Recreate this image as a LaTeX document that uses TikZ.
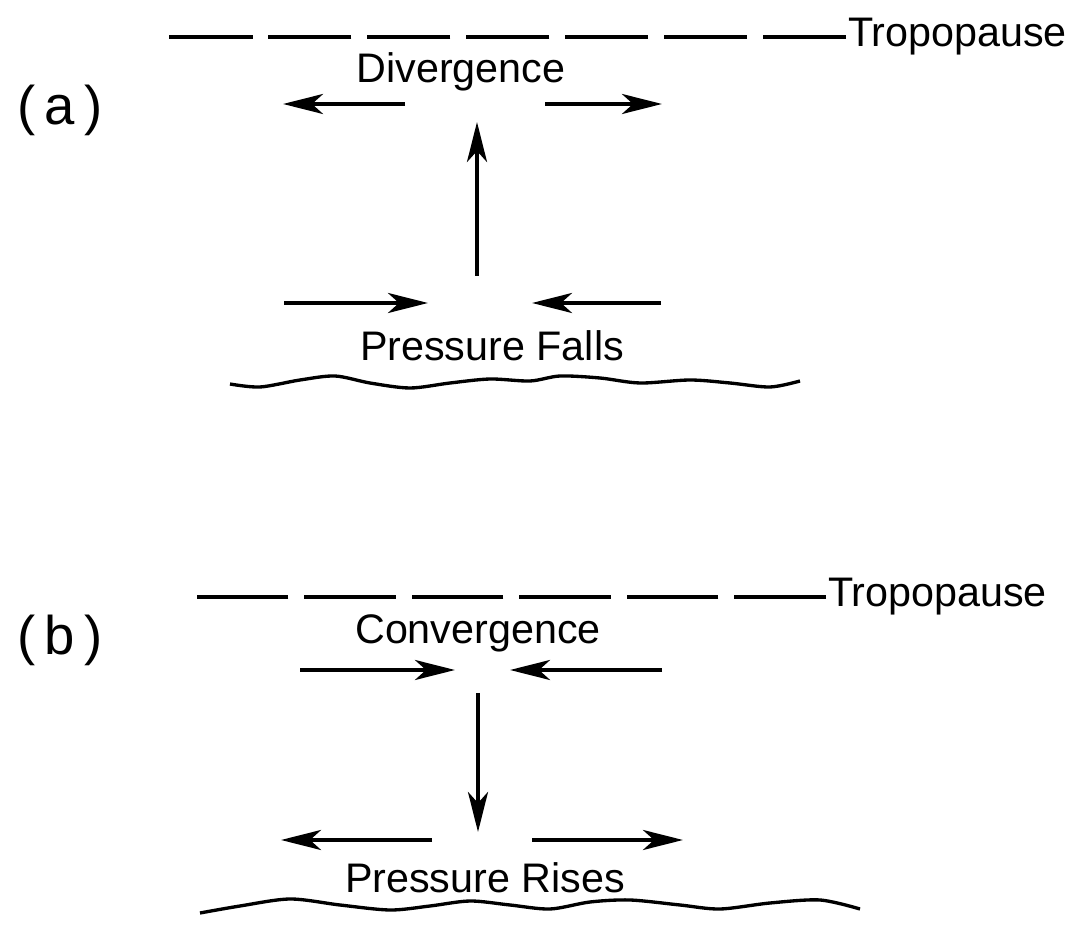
\documentclass[tikz,border=0pt]{standalone}
\usepackage{fontspec}
\setmainfont{Liberation Sans}
\usetikzlibrary{arrows.meta}
\tikzset{
  lbl/.style={font=\fontsize{23.5}{27}\selectfont, inner sep=1pt},
  panel/.style={font=\fontsize{31}{35}\selectfont, inner sep=1pt},
  flow/.style={line width=2.3pt, -{Stealth[length=8mm,width=4mm,inset=2.2mm]}},
  tropo/.style={line width=2.3pt, dash pattern=on #1 off 9pt},
  ground/.style={line width=1.9pt}
}
\begin{document}
\begin{tikzpicture}[x=0.02cm, y=-0.02cm]
\useasboundingbox (0,0) rectangle (1076,925);
% (a) falling pressure
\node[panel] (pa) at (60,110) {(\,a\,)};
\node[lbl, anchor=west] (tpa) at (846,37) {Tropopause};
\node[lbl] (dv) at (461,72) {Divergence};
\node[lbl] (pf) at (492,346) {Pressure Falls};
\coordinate (ta0) at (166,37);
\coordinate (a1) at (405,104); \coordinate (a2) at (283,104);
\coordinate (a3) at (545,104); \coordinate (a4) at (662,104);
\coordinate (a5) at (477,276); \coordinate (a6) at (477,122);
\coordinate (a7) at (284,303); \coordinate (a8) at (428,303);
\coordinate (a9) at (661,303); \coordinate (a10) at (532,303);
\draw[tropo=47.3pt] (tpa.west)--(ta0);
\draw[flow] (a1)--(a2);
\draw[flow] (a3)--(a4);
\draw[flow] (a5)--(a6);
\draw[flow] (a7)--(a8);
\draw[flow] (a9)--(a10);
\draw[ground] plot[smooth] coordinates {(230,384) (260,387) (300,380) (335,376)
  (370,383) (410,388) (450,383) (490,379) (530,381) (560,376) (600,378)
  (640,383) (690,380) (730,383) (770,387) (800,381)};
% (b) rising pressure
\node[panel] (pb) at (60,640) {(\,b\,)};
\node[lbl, anchor=west] (tpb) at (826,597) {Tropopause};
\node[lbl] (cv) at (478,633) {Convergence};
\node[lbl] (pr) at (485,878) {Pressure Rises};
\coordinate (tb0) at (192,597);
\coordinate (b1) at (300,670); \coordinate (b2) at (455,670);
\coordinate (b3) at (662,670); \coordinate (b4) at (510,670);
\coordinate (b5) at (478,693); \coordinate (b6) at (478,832);
\coordinate (b7) at (432,840); \coordinate (b8) at (281,840);
\coordinate (b9) at (532,840); \coordinate (b10) at (683,840);
\draw[tropo=52.2pt] (tpb.west)--(tb0);
\draw[flow] (b1)--(b2);
\draw[flow] (b3)--(b4);
\draw[flow] (b5)--(b6);
\draw[flow] (b7)--(b8);
\draw[flow] (b9)--(b10);
\draw[ground] plot[smooth] coordinates {(200,913) (240,906) (290,899) (340,905)
  (390,910) (430,906) (470,901) (510,905) (550,909) (590,902) (630,900)
  (680,905) (720,909) (770,903) (820,900) (860,909)};
\end{tikzpicture}
\end{document}
